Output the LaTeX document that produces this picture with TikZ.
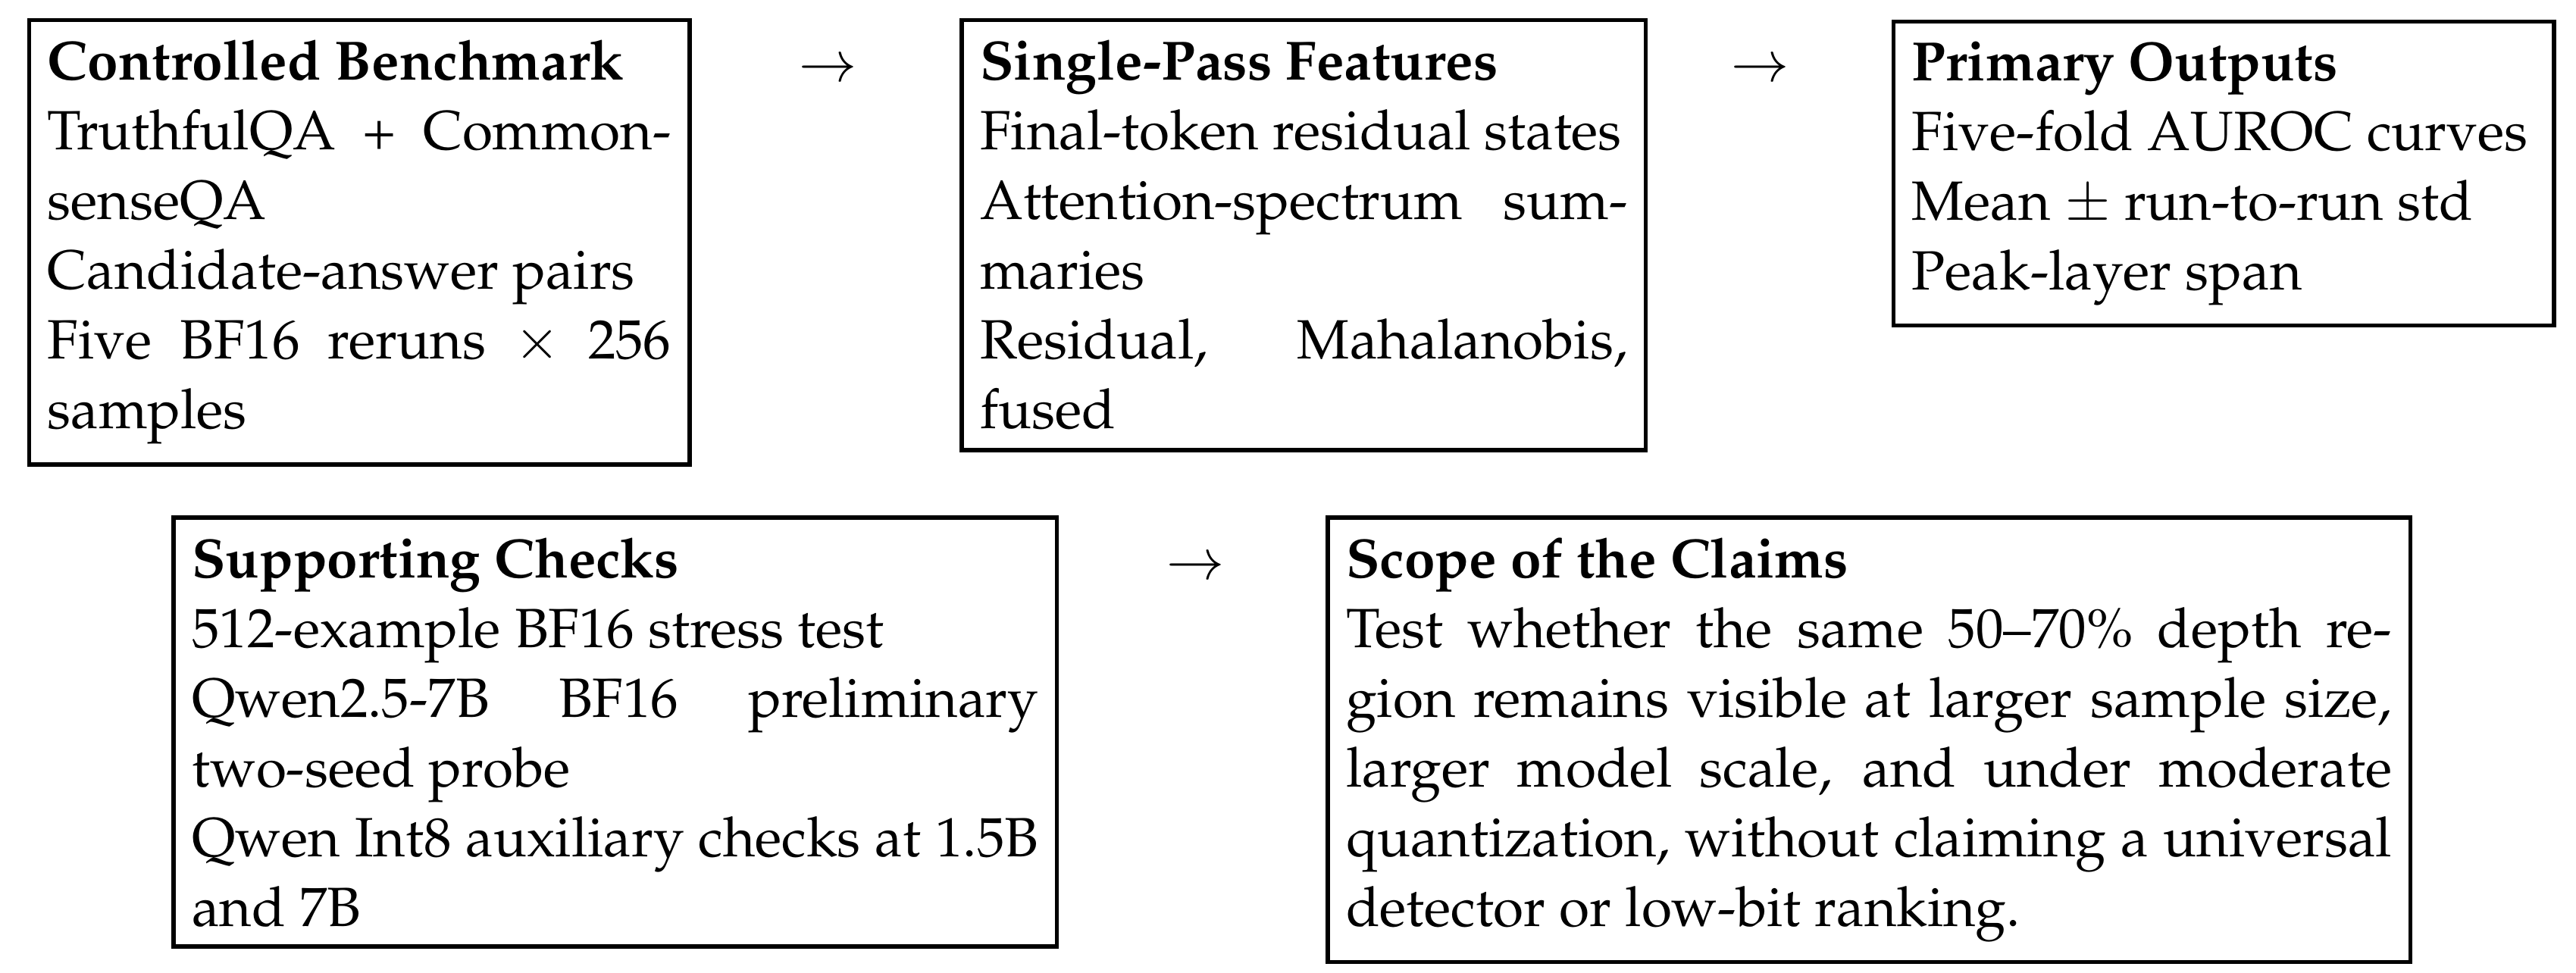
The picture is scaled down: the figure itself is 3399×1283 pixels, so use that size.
\documentclass[tikz,border=0pt]{standalone}
\usepackage[T1]{fontenc}
\usepackage{mathpazo}
\linespread{1.05}
\tikzset{
  box/.style={draw, line width=0.75pt, anchor=north west, inner xsep=3.333pt,
    inner ysep=3.65pt, outer sep=0pt, align=justify,
    font=\fontsize{10}{12}\selectfont},
  arr/.style={inner sep=0pt, anchor=base, font=\fontsize{10}{12}\selectfont}
}
\begin{document}
\begin{tikzpicture}[x=0.136986pt, y=-0.136986pt]
\useasboundingbox (0,0) rectangle (3399,1283);
\node[box, text width=112.7pt] (bench) at (38.5,26.5)
  {\textbf{Controlled Benchmark}\\
   TruthfulQA + Common-\linebreak senseQA\\
   Candidate-answer pairs\\
   Five BF16 reruns $\times$ 256\linebreak samples};
\node[box, text width=117.0pt] (feat) at (1269,26.5)
  {\textbf{Single-Pass Features}\\
   Final-token residual states\\
   Attention-spectrum sum-\linebreak maries\\
   Residual, Mahalanobis,\linebreak fused};
\node[box, text width=112.7pt] (out) at (2498.5,28.5)
  {\textbf{Primary Outputs}\\
   Five-fold AUROC curves\\
   Mean $\pm$ run-to-run std\\
   Peak-layer span};
\node[box, text width=153.0pt] (check) at (229,683)
  {\textbf{Supporting Checks}\\
   512-example BF16 stress test\\
   Qwen2.5-7B BF16 preliminary\linebreak two-seed probe\\
   Qwen Int8 auxiliary checks at 1.5B\linebreak and 7B};
\node[box, text width=189.0pt] (scope) at (1752,683)
  {\textbf{Scope of the Claims}\\
   Test whether the same 50--70\% depth re-\linebreak gion remains visible at larger sample size,\linebreak larger model scale, and under moderate\linebreak quantization, without claiming a universal\linebreak detector or low-bit ranking.};
\node[arr] (a1) at (1093,107) {$\rightarrow$};
\node[arr] (a2) at (2322.5,107) {$\rightarrow$};
\node[arr] (a3) at (1578,764) {$\rightarrow$};
\end{tikzpicture}
\end{document}
